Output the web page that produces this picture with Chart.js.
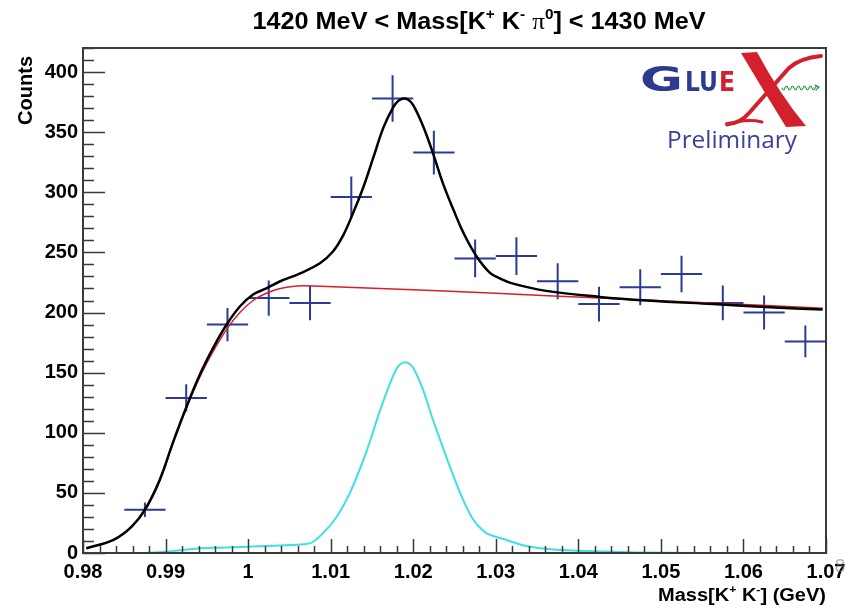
<!DOCTYPE html>
<html>
<head>
<meta charset="utf-8">
<title>K+K- mass, 1420-1430 MeV</title>
<script src="https://cdn.jsdelivr.net/npm/chart.js@4.4.1/dist/chart.umd.min.js"></script>
<style>
    html, body { margin: 0; padding: 0; background: #ffffff; }
    #chart-mass { display: block; }
</style>
</head>
<body>
<canvas id="chart-mass" width="860" height="608"></canvas>
<script>
// Data
const binCenters = [0.9875, 0.9925, 0.9975, 1.0025, 1.0075, 1.0125, 1.0175, 1.0225, 1.0275,
    1.0325, 1.0375, 1.0425, 1.0475, 1.0525, 1.0575, 1.0625, 1.0675];
const binHalfWidth = 0.0025;
const counts = [36, 129, 190, 212, 208, 296, 378, 333, 245, 247, 226, 207, 221, 232, 208, 200, 176];
const countErrors = [6, 11.4, 13.8, 14.6, 14.4, 17.2, 19.4, 18.2, 15.7, 15.7, 15, 14.4, 14.9, 15.2, 14.4, 14.1, 13.3];

// total fit (black)
const totalFitX = [0.9804, 0.9837, 0.9859, 0.9875, 0.9893, 0.9909, 0.9925, 0.9942, 0.9958, 0.9974,
    0.9990, 1.0006, 1.0022, 1.0039, 1.0063, 1.0087, 1.0103, 1.0115, 1.0127, 1.0140, 1.0152, 1.0164,
    1.0176, 1.0182, 1.0188, 1.0194, 1.0200, 1.0212, 1.0224, 1.0236, 1.0249, 1.0261, 1.0277, 1.0293,
    1.0305, 1.0321, 1.0361, 1.0426, 1.0483, 1.0563, 1.0644, 1.0696];
const totalFitY = [4, 11, 22, 36, 61, 92, 121, 149, 171, 190,
    205, 215, 220, 226, 232.6, 241, 251, 264, 282.5, 305, 329.6, 354,
    371, 376, 378, 377, 372.5, 355, 332.4, 307.4, 285, 266, 246.4, 233,
    228.4, 224, 218, 213, 210, 207, 204, 202.5];

// background (red)
const bkgX = [0.9804, 0.9837, 0.9859, 0.9875, 0.9893, 0.9909, 0.9925, 0.9942, 0.9958, 0.9974,
    0.9990, 1.0006, 1.0022, 1.0039, 1.0059, 1.0080, 1.0160, 1.0300, 1.0426, 1.0560, 1.0696];
const bkgY = [4, 11, 22, 35, 60, 91, 120, 147, 168, 186,
    200, 210, 216, 220, 222, 222, 220, 216, 212, 208, 203.5];

// signal (cyan)
const sigX = [0.9800, 0.9850, 0.9880, 0.9901, 0.9942, 1.0000, 1.0063, 1.0079, 1.0103, 1.0123,
    1.0144, 1.0160, 1.0176, 1.0182, 1.0188, 1.0194, 1.0200, 1.0212, 1.0224, 1.0240, 1.0257,
    1.0273, 1.0289, 1.0313, 1.0337, 1.0370, 1.0420, 1.0470, 1.0550, 1.0700];
const sigY = [0, 0, 0.3, 1, 3.9, 5.2, 7, 9.4, 26, 49.6,
    85.6, 119, 148, 155.5, 158.3, 158, 154, 135.6, 110.6, 80, 49.6,
    27.4, 16.4, 10.8, 5.8, 3, 1.5, 0.5, 0, 0];

// Axes
const xTickValues = [0.98, 0.99, 1.00, 1.01, 1.02, 1.03, 1.04, 1.05, 1.06, 1.07];
const xTickLabels = ['0.98', '0.99', '1', '1.01', '1.02', '1.03', '1.04', '1.05', '1.06', '1.07'];
const yTickValues = [0, 50, 100, 150, 200, 250, 300, 350, 400];

const toPoints = function (xs, ys) {
    return xs.map((x, i) => ({ x: x, y: ys[i] }));
};

const ink = {
    data: '#2b3a94',
    frame: '#3a3a3a',
    blue: '#2e3a8f',
    red: '#d4202c',
    green: '#3c9a44'
};

// draw text made of pieces, some of them superscript
const drawRich = function (ctx, parts, x, y, align, size, targetWidth) {
    const fontFor = function (p) {
        const s = p.sup ? Math.round(size * 0.62) : size;
        const fam = p.serif ? '"Liberation Serif"' : '"Liberation Sans"';
        return (p.serif ? '' : 'bold ') + s + 'px ' + fam;
    };
    let total = 0;
    parts.forEach(p => {
        ctx.font = fontFor(p);
        p.w = ctx.measureText(p.t).width;
        total += p.w;
    });
    const sx = targetWidth ? targetWidth / total : 1;
    let start = x;
    if (align === 'center') start = x - total * sx / 2;
    if (align === 'right') start = x - total * sx;
    ctx.save();
    ctx.translate(start, y);
    ctx.scale(sx, 1);
    ctx.textAlign = 'left';
    ctx.textBaseline = 'alphabetic';
    ctx.fillStyle = '#000';
    let cx = 0;
    parts.forEach(p => {
        ctx.font = fontFor(p);
        ctx.fillText(p.t, cx, p.sup ? -size * 0.42 : 0);
        cx += p.w;
    });
    ctx.restore();
};

const drawLogo = function (ctx) {
    ctx.save();
    ctx.textBaseline = 'alphabetic';
    ctx.textAlign = 'left';

    // wide G
    ctx.fillStyle = ink.blue;
    ctx.font = 'bold 36px "DejaVu Sans"';
    let w = ctx.measureText('G').width;
    ctx.save();
    ctx.translate(640, 91);
    ctx.scale(43 / w, 0.95);
    ctx.fillText('G', 0, 0);
    ctx.restore();

    ctx.font = 'bold 26px "DejaVu Sans"';
    w = ctx.measureText('LU').width;
    ctx.save();
    ctx.translate(685, 91);
    ctx.scale(33 / w, 1);
    ctx.fillText('LU', 0, 0);
    ctx.restore();

    ctx.fillStyle = ink.red;
    w = ctx.measureText('E').width;
    ctx.save();
    ctx.translate(719, 91);
    ctx.scale(16 / w, 1);
    ctx.fillText('E', 0, 0);
    ctx.restore();

    // big red X: thick stroke
    ctx.beginPath();
    ctx.moveTo(741, 53);
    ctx.lineTo(757, 52);
    ctx.quadraticCurveTo(780, 95, 806, 126);
    ctx.lineTo(786, 127);
    ctx.quadraticCurveTo(763, 90, 741, 53);
    ctx.closePath();
    ctx.fill();
    // thin swoosh
    ctx.strokeStyle = ink.red;
    ctx.lineWidth = 4;
    ctx.lineCap = 'round';
    ctx.beginPath();
    ctx.moveTo(821, 56);
    ctx.quadraticCurveTo(800, 58, 789, 68);
    ctx.lineTo(750, 112);
    ctx.quadraticCurveTo(740, 124, 727, 124);
    ctx.stroke();
    ctx.lineWidth = 3;
    ctx.beginPath();
    ctx.moveTo(727, 125);
    ctx.quadraticCurveTo(745, 118, 762, 122);
    ctx.stroke();

    // green wiggle
    ctx.strokeStyle = ink.green;
    ctx.lineWidth = 1.2;
    ctx.beginPath();
    for (let i = 0; i <= 36; i++) {
        const px = 782 + i;
        const py = 88 + 2 * Math.sin(i / 36 * Math.PI * 12);
        if (i === 0) ctx.moveTo(px, py); else ctx.lineTo(px, py);
    }
    ctx.stroke();
    ctx.beginPath();
    ctx.moveTo(815, 85);
    ctx.lineTo(819, 87);
    ctx.lineTo(816, 90);
    ctx.stroke();

    // Preliminary
    ctx.fillStyle = '#3b3f9a';
    ctx.font = '23px "Open Sans"';
    w = ctx.measureText('Preliminary').width;
    ctx.save();
    ctx.translate(667, 148);
    ctx.scale(130 / w, 1);
    ctx.fillText('Preliminary', 0, 0);
    ctx.restore();
    ctx.restore();
};

// ROOT style frame, inward ticks, crosses and labels
const rootStylePlugin = {
    id: 'rootStyle',
    beforeDatasetsDraw(chart) {
        const ctx = chart.ctx;
        const xs = chart.scales.x;
        const ys = chart.scales.y;
        ctx.save();
        ctx.strokeStyle = ink.data;
        ctx.lineWidth = 2;
        binCenters.forEach((c, i) => {
            const px = xs.getPixelForValue(c);
            const py = ys.getPixelForValue(counts[i]);
            ctx.beginPath();
            ctx.moveTo(xs.getPixelForValue(c - binHalfWidth), py);
            ctx.lineTo(xs.getPixelForValue(c + binHalfWidth), py);
            ctx.moveTo(px, ys.getPixelForValue(counts[i] + countErrors[i]));
            ctx.lineTo(px, ys.getPixelForValue(counts[i] - countErrors[i]));
            ctx.stroke();
        });
        ctx.restore();
    },
    afterDraw(chart) {
        const ctx = chart.ctx;
        const area = chart.chartArea;
        const xs = chart.scales.x;
        const ys = chart.scales.y;
        ctx.save();

        // ticks
        ctx.strokeStyle = ink.frame;
        ctx.lineWidth = 1.5;
        ctx.beginPath();
        for (let v = 0; v <= 420; v += 10) {
            const py = Math.round(ys.getPixelForValue(v)) + 0.5;
            const len = (v % 50 === 0) ? 22 : 11;
            ctx.moveTo(area.left, py);
            ctx.lineTo(area.left + len, py);
        }
        for (let k = 0; k <= 45; k++) {
            const px = Math.round(xs.getPixelForValue(0.98 + k * 0.002)) + 0.5;
            const len = (k % 5 === 0) ? 14 : 7;
            ctx.moveTo(px, area.bottom);
            ctx.lineTo(px, area.bottom - len);
        }
        ctx.stroke();

        // frame
        ctx.lineWidth = 2;
        ctx.strokeRect(area.left, area.top, area.right - area.left, area.bottom - area.top);

        // title
        drawRich(ctx, [
            { t: '1420 MeV < Mass[K' }, { t: '+', sup: true }, { t: ' K' }, { t: '-', sup: true },
            { t: ' ' }, { t: 'π', serif: true }, { t: '0', sup: true }, { t: '] < 1430 MeV' }
        ], 479, 29, 'center', 23, 453);

        // x title
        drawRich(ctx, [
            { t: 'Mass[K' }, { t: '+', sup: true }, { t: ' K' }, { t: '-', sup: true }, { t: '] (GeV)' }
        ], area.right, 601, 'right', 18, 168);

        // y title
        ctx.save();
        ctx.translate(32, area.top + 8);
        ctx.rotate(-Math.PI / 2);
        ctx.font = 'bold 20px "Liberation Sans"';
        ctx.fillStyle = '#000';
        ctx.textAlign = 'right';
        ctx.textBaseline = 'alphabetic';
        ctx.fillText('Counts', 0, 0);
        ctx.restore();

        // faint page mark near the corner
        ctx.font = '18px "DejaVu Sans"';
        ctx.fillStyle = 'rgba(120,120,120,0.55)';
        ctx.textAlign = 'center';
        ctx.fillText('8', 840, 572);

        drawLogo(ctx);
        ctx.restore();
    }
};

// Chart
const chartData = {
    datasets: [
        {
            label: 'Total fit',
            data: toPoints(totalFitX, totalFitY),
            borderColor: '#000000',
            borderWidth: 2.5
        },
        {
            label: 'Background',
            data: toPoints(bkgX, bkgY),
            borderColor: ink.red,
            borderWidth: 1.5
        },
        {
            label: 'Signal',
            data: toPoints(sigX, sigY),
            borderColor: 'rgb(62, 224, 226)',
            borderWidth: 2,
            tension: 0.25
        }
    ]
};

// Options
const chartOptions = {
    responsive: false,
    animation: false,
    devicePixelRatio: 1,
    layout: { padding: { top: 48, right: 34, left: 0, bottom: 0 } },
    elements: {
        point: { radius: 0 },
        line: { tension: 0.4, fill: false }
    },
    plugins: {
        legend: { display: false },
        tooltip: { enabled: false },
        title: { display: false }
    },
    scales: {
        x: {
            type: 'linear',
            min: 0.98,
            max: 1.07,
            grid: { display: false, drawTicks: false },
            border: { display: false },
            afterBuildTicks: function (scale) {
                scale.ticks = xTickValues.map(v => ({ value: v }));
            },
            afterFit: function (scale) { scale.height = 55; },
            ticks: {
                autoSkip: false,
                maxRotation: 0,
                padding: 7,
                color: '#000',
                font: { family: 'Liberation Sans', size: 20, weight: 'bold' },
                callback: function (value, index) { return xTickLabels[index]; }
            }
        },
        y: {
            type: 'linear',
            min: 0,
            max: 420,
            grid: { display: false, drawTicks: false },
            border: { display: false },
            afterBuildTicks: function (scale) {
                scale.ticks = yTickValues.map(v => ({ value: v }));
            },
            afterFit: function (scale) { scale.width = 83; },
            ticks: {
                padding: 5,
                color: '#000',
                font: { family: 'Liberation Sans', size: 20, weight: 'bold' }
            }
        }
    }
};

new Chart(document.getElementById('chart-mass'), {
    type: 'line',
    data: chartData,
    options: chartOptions,
    plugins: [rootStylePlugin]
});
</script>
</body>
</html>
